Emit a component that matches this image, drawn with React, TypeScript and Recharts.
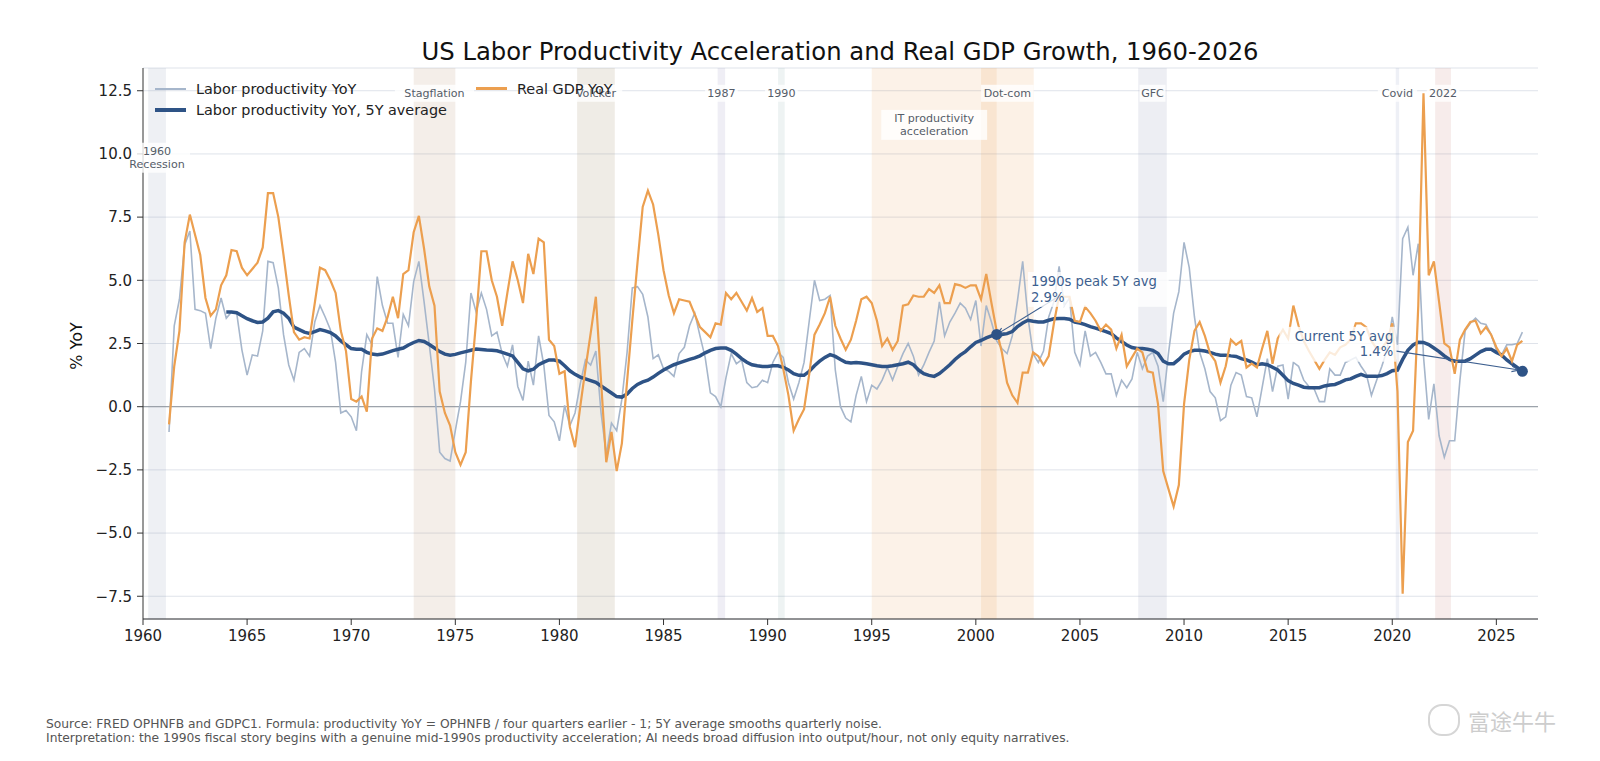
import React from 'react'
import { LineChart, Line, XAxis, YAxis, CartesianGrid, ReferenceArea, ReferenceLine, ReferenceDot } from 'recharts'

// quarterly points, quarter-end dates, first one is 1961Q1
const FIRST_QUARTER = 1961.25

// Real GDP YoY, %
const gdpYoY = [
  -0.7, 1.6, 3.0, 6.5, 7.6, 6.8, 6.0, 4.3, // 1961-62
  3.6, 3.85, 4.8, 5.2, 6.2, 6.15, 5.5, 5.2,
  5.45, 5.7, 6.3, 8.45, 8.45, 7.5, 6.0, 4.4,
  2.95, 2.65, 2.75, 2.7, 4.1, 5.5, 5.4, 5.0,
  4.5, 3.0, 2.2, 0.3, 0.2, 0.4, -0.2, 2.7, // 1969-70
  3.1, 3.0, 3.55, 4.35, 3.5, 5.25, 5.4, 6.9,
  7.55, 6.25, 4.75, 4.0, 0.6, -0.25, -0.75, -1.8,
  -2.3, -1.8, 1.0, 3.4, 6.15, 6.15, 5.0, 4.35,
  3.2, 4.5, 5.75, 5.0, 4.1, 6.05, 5.25, 6.65,
  6.5, 2.65, 2.4, 1.3, 1.4, -0.8, -1.6, 0.0, // 1979-80
  1.5, 2.9, 4.35, 1.0, -2.2, -1.0, -2.55, -1.45,
  1.0, 3.4, 5.7, 7.9, 8.55, 8.0, 6.8, 5.4,
  4.4, 3.7, 4.25, 4.2, 4.15, 3.65, 3.15, 2.95,
  2.75, 3.3, 3.25, 4.5, 4.25, 4.5, 4.15, 3.8,
  4.3, 3.75, 3.9, 2.8, 2.8, 2.4, 1.5, 0.45, // 1989-90
  -0.95, -0.5, -0.1, 1.3, 2.85, 3.25, 3.7, 4.35,
  3.2, 2.7, 2.25, 2.65, 3.4, 4.25, 4.35, 4.1,
  3.4, 2.4, 2.7, 2.25, 2.6, 4.0, 4.05, 4.4,
  4.35, 4.35, 4.65, 4.5, 4.8, 4.1, 4.1, 4.85,
  4.8, 4.7, 4.8, 4.8, 4.25, 5.25, 4.1, 3.0, // 1999-2000
  2.15, 0.95, 0.45, 0.15, 1.35, 1.35, 2.15, 2.0,
  1.65, 2.0, 3.3, 4.4, 4.35, 4.35, 3.4, 3.35,
  3.95, 3.7, 3.4, 3.0, 3.25, 3.05, 2.3, 2.85,
  1.6, 1.95, 2.3, 2.15, 1.4, 1.35, 0.1, -2.55,
  -3.25, -3.95, -3.1, 0.1, 1.85, 3.0, 3.35, 2.8, // 2009-10
  2.1, 1.8, 0.95, 1.6, 2.65, 2.45, 2.6, 1.55,
  1.7, 1.55, 2.3, 3.0, 1.7, 2.7, 3.05, 2.7,
  4.0, 3.2, 2.6, 2.2, 1.85, 1.5, 1.85, 2.15,
  2.05, 2.35, 2.45, 2.65, 3.3, 3.3, 3.15, 2.6,
  2.3, 2.3, 2.6, 3.3, 0.6, -7.4, -1.4, -0.95, // 2019-20
  4.0, 12.4, 5.2, 5.75, 4.15, 2.5, 2.35, 1.3,
  2.65, 3.05, 3.35, 3.4, 2.9, 3.15, 2.85, 2.35,
  2.0, 2.3, 1.8, 2.45, 2.6,
]

// Labor productivity (OPHNFB) YoY, %
const prodYoY = [
  -1.0, 3.2, 4.25, 6.4, 6.95, 3.85, 3.8, 3.7,
  2.3, 3.5, 4.3, 3.5, 3.75, 3.7, 2.25, 1.25,
  2.05, 2.0, 3.0, 5.75, 5.7, 4.7, 2.85, 1.65,
  1.05, 2.15, 2.3, 2.0, 3.35, 4.0, 3.55, 3.05,
  1.75, -0.25, -0.15, -0.4, -0.95, 1.4, 2.85, 2.45,
  5.15, 4.0, 3.3, 3.3, 1.95, 3.65, 3.2, 4.95,
  5.75, 4.15, 2.45, 0.7, -1.8, -2.05, -2.15, -0.95,
  0.2, 1.75, 4.5, 3.75, 4.5, 3.85, 2.8, 2.95,
  2.1, 1.6, 2.45, 0.8, 0.25, 1.8, 0.85, 2.8,
  1.65, -0.35, -0.6, -1.35, 0.05, -0.75, -0.25, 0.9,
  1.85, 1.65, 2.2, -0.25, -1.9, -0.65, -0.95, 0.3,
  2.15, 4.7, 4.75, 4.45, 3.55, 1.9, 2.05, 1.5,
  1.4, 1.2, 2.1, 2.35, 3.2, 3.7, 2.8, 1.95,
  0.55, 0.4, 0.0, 1.15, 2.1, 1.7, 1.85, 0.95,
  0.75, 0.8, 1.05, 0.95, 1.75, 2.15, 1.95, 0.95,
  0.3, 0.95, 1.75, 3.4, 5.0, 4.2, 4.25, 4.4,
  1.45, 0.0, -0.45, -0.6, 0.45, 1.2, 0.2, 0.85,
  0.7, 1.05, 1.55, 1.05, 1.6, 2.1, 2.5, 2.0,
  1.25, 1.65, 2.15, 2.6, 4.15, 2.8, 3.35, 3.7,
  4.1, 3.9, 3.45, 4.2, 2.4, 4.0, 3.35, 2.6,
  2.3, 2.1, 2.8, 4.2, 5.75, 3.55, 2.1, 1.75,
  2.2, 3.55, 4.15, 5.55, 4.0, 4.3, 2.15, 1.65,
  3.0, 2.0, 2.15, 1.75, 1.3, 1.3, 0.45, 1.05,
  0.75, 1.1, 2.15, 1.5, 2.0, 2.15, 1.6, 0.2,
  2.1, 3.7, 4.55, 6.5, 5.5, 3.55, 2.15, 1.5,
  0.6, 0.35, -0.55, -0.4, 0.85, 1.35, 1.25, 0.4,
  0.35, -0.4, 0.75, 1.9, 0.6, 1.6, 1.65, 0.3,
  1.75, 1.6, 1.05, 0.8, 0.7, 0.2, 0.2, 1.5,
  1.25, 1.25, 1.75, 1.85, 1.95, 1.6, 1.3, 0.45,
  1.05, 1.6, 2.25, 3.55, 2.45, 6.65, 7.1, 5.2,
  6.45, 2.0, -0.5, 0.9, -1.15, -2.0, -1.35, -1.35,
  1.05, 3.0, 3.3, 3.5, 3.3, 3.25, 2.85, 2.25,
  2.05, 2.45, 2.45, 2.5, 2.95,
]

// 5Y rolling average of productivity YoY (starts 1963Q4)
const prod5yAvg = [
  null, null, null, null, null, null, null, null,
  null, null, null, 3.75, 3.75, 3.72, 3.6, 3.48,
  3.4, 3.33, 3.35, 3.5, 3.75, 3.8, 3.7, 3.5,
  3.15, 3.05, 2.95, 2.9, 2.97, 3.05, 3.0, 2.93,
  2.8, 2.6, 2.45, 2.3, 2.27, 2.27, 2.15, 2.08,
  2.06, 2.08, 2.15, 2.22, 2.27, 2.32, 2.44, 2.54,
  2.62, 2.58, 2.46, 2.32, 2.18, 2.08, 2.04, 2.07,
  2.13, 2.18, 2.23, 2.28, 2.26, 2.24, 2.23, 2.21,
  2.15, 2.08, 2.01, 1.75, 1.5, 1.42, 1.48, 1.66,
  1.76, 1.85, 1.85, 1.8, 1.62, 1.42, 1.28, 1.17,
  1.1, 1.03, 0.96, 0.82, 0.68, 0.54, 0.4, 0.38,
  0.5, 0.72, 0.88, 0.98, 1.05, 1.17, 1.32, 1.45,
  1.56, 1.66, 1.73, 1.8, 1.87, 1.93, 2.01, 2.13,
  2.23, 2.3, 2.32, 2.32, 2.23, 2.08, 1.9, 1.76,
  1.66, 1.62, 1.59, 1.59, 1.62, 1.62, 1.56, 1.45,
  1.31, 1.24, 1.24, 1.4, 1.62, 1.8, 1.95, 2.06,
  1.99, 1.87, 1.76, 1.73, 1.75, 1.73, 1.7, 1.66,
  1.62, 1.59, 1.59, 1.62, 1.66, 1.7, 1.76, 1.66,
  1.45, 1.31, 1.24, 1.2, 1.31, 1.48, 1.66, 1.87,
  2.04, 2.18, 2.37, 2.54, 2.62, 2.72, 2.8, 2.86,
  2.86, 2.89, 2.97, 3.17, 3.31, 3.42, 3.38, 3.35,
  3.35, 3.42, 3.48, 3.49, 3.49, 3.46, 3.35, 3.31,
  3.25, 3.17, 3.11, 3.04, 2.97, 2.89, 2.72, 2.58,
  2.44, 2.34, 2.3, 2.3, 2.27, 2.23, 2.1, 1.8,
  1.7, 1.7, 1.87, 2.08, 2.18, 2.23, 2.23, 2.2,
  2.15, 2.08, 2.04, 2.04, 2.01, 1.99, 1.9, 1.85,
  1.76, 1.66, 1.7, 1.66, 1.56, 1.45, 1.24, 1.03,
  0.92, 0.85, 0.77, 0.75, 0.75, 0.75, 0.82, 0.86,
  0.88, 0.96, 1.06, 1.1, 1.2, 1.28, 1.2, 1.2,
  1.2, 1.23, 1.31, 1.42, 1.45, 1.87, 2.23, 2.44,
  2.55, 2.54, 2.46, 2.32, 2.18, 2.01, 1.87, 1.8,
  1.8, 1.8, 1.9, 2.04, 2.18, 2.27, 2.27, 2.15,
  2.05, 1.85, 1.7, 1.55, 1.4,
]

const xTicks = [1960, 1965, 1970, 1975, 1980, 1985, 1990, 1995, 2000, 2005, 2010, 2015, 2020, 2025]
const yTicks = [-7.5, -5, -2.5, 0, 2.5, 5, 7.5, 10, 12.5]

// shaded episodes
const episodes = [
  { lines: ['1960', 'Recession'], start: 1960.25, end: 1961.1, fill: '#8e9bb6', op: 0.15, ly: 9.85 },
  { lines: ['Stagflation'], start: 1973.0, end: 1975.0, fill: '#b68e6c', op: 0.15, ly: 12.4 },
  { lines: ['Volcker'], start: 1980.85, end: 1982.66, fill: '#9b8766', op: 0.16, ly: 12.4 },
  { lines: ['1987'], start: 1987.6, end: 1987.96, fill: '#948ebc', op: 0.15, ly: 12.4 },
  { lines: ['1990'], start: 1990.5, end: 1990.82, fill: '#8eafaf', op: 0.15, ly: 12.4 },
  { lines: ['IT productivity', 'acceleration'], start: 1995.0, end: 2001.0, fill: '#e68a2f', op: 0.11, ly: 11.15 },
  { lines: ['Dot-com'], start: 2000.25, end: 2002.78, fill: '#e68a2f', op: 0.12, ly: 12.4 },
  { lines: ['GFC'], start: 2007.8, end: 2009.17, fill: '#8e96b6', op: 0.16, ly: 12.4 },
  { lines: ['Covid'], start: 2020.17, end: 2020.33, fill: '#8e9bc3', op: 0.15, ly: 12.4 },
  { lines: ['2022'], start: 2022.06, end: 2022.82, fill: '#ca807a', op: 0.15, ly: 12.4 },
]

const data = gdpYoY.map((g, i) => ({
  t: FIRST_QUARTER + i * 0.25,
  gdp: g,
  prod: prodYoY[i],
  avg: prod5yAvg[i],
}))

const FONT = '"DejaVu Sans", sans-serif'
const DARK = '#2e5386'
const LIGHT = '#a6b6cb'
const ORANGE = '#ec9f4f'
const NOTE = '#3d5f8f'

const fmt = (v: number) => (v < 0 ? '\u2212' + Math.abs(v).toFixed(1) : v.toFixed(1))

function BoxLabel(props: any) {
  const { viewBox, lines, size, color, align, alpha } = props
  if (!viewBox) return null
  const cx = viewBox.x + (viewBox.width || 0) / 2
  const cy = viewBox.y + (viewBox.height || 0) / 2
  const lh = size * 1.17
  const w = Math.max(...lines.map((l: string) => l.length)) * size * 0.6 + 6
  const h = lines.length * lh + 4
  const left = align === 'middle' ? cx - w / 2 : align === 'end' ? cx - w + 3 : cx - 3
  const top = cy - h / 2
  return (
    <g>
      <rect x={left} y={top} width={w} height={h} fill="#fff" fillOpacity={alpha ?? 0.8} />
      {lines.map((l: string, i: number) => (
        <text
          key={i}
          x={cx}
          y={top + 2 + lh * (i + 0.5)}
          dominantBaseline="central"
          textAnchor={align}
          fontSize={size}
          fill={color}
          fontFamily={FONT}
        >
          {l}
        </text>
      ))}
    </g>
  )
}

function Arrow(props: any) {
  const { x1, y1, x2, y2 } = props
  const a = Math.atan2(y2 - y1, x2 - x1)
  const L = 8
  const p1 = [x2 - L * Math.cos(a - 0.35), y2 - L * Math.sin(a - 0.35)]
  const p2 = [x2 - L * Math.cos(a + 0.35), y2 - L * Math.sin(a + 0.35)]
  return (
    <g stroke={NOTE} strokeWidth={1.1} fill="none">
      <line x1={x1} y1={y1} x2={x2} y2={y2} />
      <path d={`M${p1[0]},${p1[1]} L${x2},${y2} L${p2[0]},${p2[1]}`} />
    </g>
  )
}

function LegendRow({ color, width, label }: { color: string; width: number; label: string }) {
  return (
    <div style={{ display: 'flex', alignItems: 'center', height: 21 }}>
      <div style={{ width: 31, height: width, background: color, marginRight: 10 }} />
      <span>{label}</span>
    </div>
  )
}

export default function App() {
  return (
    <div style={{ position: 'absolute', left: 0, top: 0, width: 1600, height: 761, background: '#fff', fontFamily: FONT }}>
      <div style={{ position: 'absolute', left: 840, top: 51, transform: 'translate(-50%, -50%)', fontSize: 24.3, color: '#111', whiteSpace: 'nowrap' }}>
        US Labor Productivity Acceleration and Real GDP Growth, 1960-2026
      </div>

      <LineChart width={1600} height={761} data={data} margin={{ top: 68, right: 62, bottom: 112, left: 83 }}>
        {episodes.map((e) => (
          <ReferenceArea key={e.lines.join()} x1={e.start} x2={e.end} y1={-8.4} y2={13.4} fill={e.fill} fillOpacity={e.op} stroke="none" />
        ))}
        <CartesianGrid vertical={false} stroke="#dfe3ea" strokeWidth={1} />
        <XAxis
          type="number"
          dataKey="t"
          domain={[1960, 2027]}
          ticks={xTicks}
          allowDataOverflow
          height={30}
          tickSize={6}
          tickMargin={5}
          tick={{ fontSize: 15, fill: '#222' }}
          tickLine={{ stroke: '#333' }}
          axisLine={{ stroke: '#333' }}
        />
        <YAxis
          type="number"
          domain={[-8.4, 13.4]}
          ticks={yTicks}
          allowDataOverflow
          width={60}
          tickSize={6}
          tickMargin={5}
          tickFormatter={fmt}
          tick={{ fontSize: 15, fill: '#222' }}
          tickLine={{ stroke: '#333' }}
          axisLine={{ stroke: '#333' }}
        />
        <ReferenceLine y={0} stroke="#8d939c" strokeWidth={1} />
        <Line type="linear" dataKey="prod" stroke={LIGHT} strokeWidth={1.6} dot={false} isAnimationActive={false} />
        <Line type="linear" dataKey="avg" stroke={DARK} strokeWidth={3.5} dot={false} isAnimationActive={false} />
        <Line type="linear" dataKey="gdp" stroke={ORANGE} strokeWidth={2.2} dot={false} isAnimationActive={false} />

        {episodes.map((e) => (
          <ReferenceDot
            key={'l' + e.lines.join()}
            x={(e.start + e.end) / 2}
            y={e.ly}
            r={0}
            fill="none"
            stroke="none"
            label={<BoxLabel lines={e.lines} size={11.1} color="#555c68" align="middle" alpha={0.8} />}
          />
        ))}

        <ReferenceLine segment={[{ x: 2003.95, y: 4.35 }, { x: 2001.0, y: 2.86 }]} shape={Arrow} />
        <ReferenceLine segment={[{ x: 2020.2, y: 2.2 }, { x: 2026.1, y: 1.45 }]} shape={Arrow} />
        <ReferenceDot x={2001.0} y={2.86} r={5.5} fill={DARK} stroke="none" />
        <ReferenceDot x={2026.25} y={1.4} r={5.5} fill={DARK} stroke="none" />
        <ReferenceDot
          x={2002.65}
          y={4.64}
          r={0}
          fill="none"
          stroke="none"
          label={<BoxLabel lines={['1990s peak 5Y avg', '2.9%']} size={13.2} color={NOTE} align="start" alpha={0.8} />}
        />
        <ReferenceDot
          x={2020.05}
          y={2.47}
          r={0}
          fill="none"
          stroke="none"
          label={<BoxLabel lines={['Current 5Y avg', '1.4%']} size={13.2} color={NOTE} align="end" alpha={0.8} />}
        />
      </LineChart>

      <div style={{ position: 'absolute', left: 155, top: 78, fontSize: 14.4, color: '#222' }}>
        <LegendRow color={LIGHT} width={2} label="Labor productivity YoY" />
        <LegendRow color={DARK} width={4} label="Labor productivity YoY, 5Y average" />
      </div>
      <div style={{ position: 'absolute', left: 476, top: 78, fontSize: 14.4, color: '#222' }}>
        <LegendRow color={ORANGE} width={2.4} label="Real GDP YoY" />
      </div>

      <div style={{ position: 'absolute', left: 76, top: 346, transform: 'translate(-50%, -50%) rotate(-90deg)', fontSize: 16, color: '#111', whiteSpace: 'nowrap' }}>
        % YoY
      </div>

      <div style={{ position: 'absolute', left: 46, top: 718, fontSize: 12.3, color: '#555', lineHeight: '13.5px', whiteSpace: 'nowrap' }}>
        <div>Source: FRED OPHNFB and GDPC1. Formula: productivity YoY = OPHNFB / four quarters earlier - 1; 5Y average smooths quarterly noise.</div>
        <div>Interpretation: the 1990s fiscal story begins with a genuine mid-1990s productivity acceleration; AI needs broad diffusion into output/hour, not only equity narratives.</div>
      </div>

      <div style={{ position: 'absolute', left: 1428, top: 704, display: 'flex', alignItems: 'center', color: '#cdcdcd', fontSize: 22, fontFamily: '"Noto Sans CJK SC", sans-serif' }}>
        <div style={{ width: 28, height: 28, borderRadius: 14, border: '2px solid #d6d6d6', marginRight: 8 }} />
        <span>富途牛牛</span>
      </div>
    </div>
  )
}
